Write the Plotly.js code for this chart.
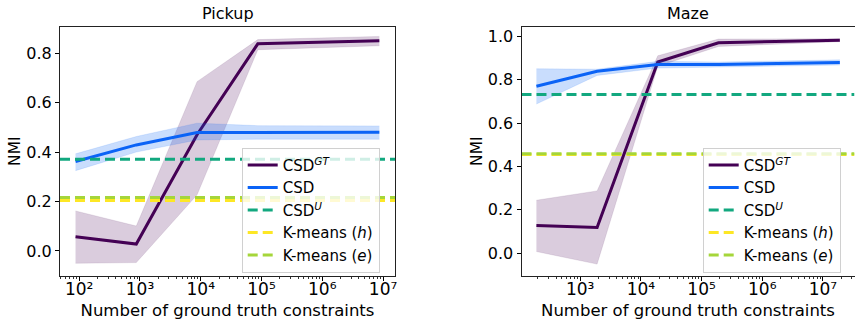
<!DOCTYPE html>
<html><head><meta charset="utf-8">
<script src="https://cdn.plot.ly/plotly-3.0.1.min.js"></script>
<style>html,body{margin:0;padding:0;background:#fff}</style>
</head><body><div id="chart" style="width:855px;height:320px"></div>
<script>
// ---- data ----
const seriesNames = ['CSD<sup><i>GT</i></sup>', 'CSD', 'CSD<sup><i>U</i></sup>', 'K-means (<i>h</i>)', 'K-means (<i>e</i>)'];
const panelTitles = ['Pickup', 'Maze'];
const xTitle = 'Number of ground truth constraints';
const yTitle = 'NMI';

const pickupX = [87, 870, 8700, 87000, 8700000];
const pickupGT = [0.058, 0.028, 0.47, 0.838, 0.850];
const pickupGTLow = [-0.050, -0.047, 0.227, 0.814, 0.830];
const pickupGTHigh = [0.162, 0.101, 0.685, 0.855, 0.868];
const pickupCSD = [0.362, 0.429, 0.479, 0.479, 0.480];
const pickupCSDLow = [0.325, 0.400, 0.449, 0.452, 0.452];
const pickupCSDHigh = [0.393, 0.463, 0.517, 0.507, 0.506];
const pickupCSDU = 0.371, pickupKmH = 0.204, pickupKmE = 0.216;

const mazeX = [190, 1900, 19000, 190000, 19000000];
const mazeGT = [0.127, 0.118, 0.882, 0.971, 0.983];
const mazeGTLow = [0.007, -0.051, 0.862, 0.954, 0.976];
const mazeGTHigh = [0.244, 0.287, 0.911, 0.988, 0.990];
const mazeCSD = [0.770, 0.839, 0.870, 0.870, 0.880];
const mazeCSDLow = [0.688, 0.820, 0.854, 0.858, 0.868];
const mazeCSDHigh = [0.851, 0.849, 0.885, 0.882, 0.892];
const mazeCSDU = 0.732, mazeKmH = 0.455, mazeKmE = 0.458;

const pickupXTicks = [100, 1000, 10000, 100000, 1000000, 10000000];
const pickupXTickText = ['10²', '10³', '10⁴', '10⁵', '10⁶', '10⁷'];
const mazeXTicks = [1000, 10000, 100000, 1000000, 10000000];
const mazeXTickText = ['10³', '10⁴', '10⁵', '10⁶', '10⁷'];
const pickupYTicks = [0.0, 0.2, 0.4, 0.6, 0.8];
const mazeYTicks = [0.0, 0.2, 0.4, 0.6, 0.8, 1.0];

// ---- styling ----
const C_GT = '#440154', C_CSD = '#0b63f6', C_U = '#12a87f', C_H = '#fde725', C_E = '#a5d63a';
const F_GT = 'rgba(68,1,84,0.2)', F_CSD = 'rgba(11,99,246,0.22)';
const FONT = 'DejaVu Sans';
const pickupXRange = [1.684, 7.197], mazeXRange = [2.033, 7.52];
const pickupYRange = [-0.100, 0.908], mazeYRange = [-0.1045, 1.046];

function panel(xa, ya, leg, xs, gt, gtL, gtH, csd, csdL, csdH, u, kh, ke, xr) {
  const common = {xaxis: xa, yaxis: ya, legend: leg, hoverinfo: 'skip'};
  const span = [Math.pow(10, xr[0]), Math.pow(10, xr[1])];
  const t = [];
  t.push(Object.assign({x: xs, y: gtL, mode: 'lines', line: {width: 0.5, color: F_GT}, showlegend: false}, common));
  t.push(Object.assign({x: xs, y: gtH, mode: 'lines', line: {width: 0.5, color: F_GT}, fill: 'tonexty', fillcolor: F_GT, showlegend: false}, common));
  t.push(Object.assign({x: xs, y: gt, mode: 'lines', name: seriesNames[0], line: {width: 3, color: C_GT}}, common));
  t.push(Object.assign({x: xs, y: csdL, mode: 'lines', line: {width: 0.5, color: F_CSD}, showlegend: false}, common));
  t.push(Object.assign({x: xs, y: csdH, mode: 'lines', line: {width: 0.5, color: F_CSD}, fill: 'tonexty', fillcolor: F_CSD, showlegend: false}, common));
  t.push(Object.assign({x: xs, y: csd, mode: 'lines', name: seriesNames[1], line: {width: 3, color: C_CSD}}, common));
  t.push(Object.assign({x: span, y: [u, u], mode: 'lines', name: seriesNames[2], line: {width: 3, color: C_U, dash: '10px,5px'}}, common));
  t.push(Object.assign({x: span, y: [kh, kh], mode: 'lines', name: seriesNames[3], line: {width: 3, color: C_H, dash: '10px,5px'}}, common));
  t.push(Object.assign({x: span, y: [ke, ke], mode: 'lines', name: seriesNames[4], line: {width: 3, color: C_E, dash: '10px,5px'}}, common));
  return t;
}

const data = [].concat(
  panel('x', 'y', 'legend', pickupX, pickupGT, pickupGTLow, pickupGTHigh, pickupCSD, pickupCSDLow, pickupCSDHigh, pickupCSDU, pickupKmH, pickupKmE, pickupXRange),
  panel('x2', 'y2', 'legend2', mazeX, mazeGT, mazeGTLow, mazeGTHigh, mazeCSD, mazeCSDLow, mazeCSDHigh, mazeCSDU, mazeKmH, mazeKmE, mazeXRange)
);

function xax(domain, range, tv, tt) {
  return {domain: domain, type: 'log', range: range, tickmode: 'array', tickvals: tv, ticktext: tt,
    ticks: 'outside', ticklen: 4, tickwidth: 1, tickcolor: '#000', showgrid: false, zeroline: false,
    showline: true, mirror: true, linecolor: '#222', linewidth: 1, ticklabelstandoff: -6,
    tickfont: {family: FONT, size: 17, color: '#000'},
    minor: {ticks: 'outside', ticklen: 2, tickwidth: 0.8, tickcolor: '#000', dtick: 'D1', showgrid: false},
    title: {text: xTitle, font: {family: FONT, size: 16.5, color: '#000'}, standoff: 7}};
}
function yax(domain, range, tv, anchor) {
  return {domain: domain, range: range, tickmode: 'array', tickvals: tv, tickformat: '.1f', anchor: anchor,
    ticks: 'outside', ticklen: 4, tickwidth: 1, tickcolor: '#000', showgrid: false, zeroline: false,
    showline: true, mirror: true, linecolor: '#222', linewidth: 1,
    tickfont: {family: FONT, size: 16, color: '#000'},
    title: {text: yTitle, font: {family: FONT, size: 15.5, color: '#000'}, standoff: 1}};
}
const yDom = [1 - 275.7 / 320, 1 - 26.5 / 320];
const legendStyle = {bgcolor: 'rgba(255,255,255,0.8)', bordercolor: '#d0d0d0', borderwidth: 1, traceorder: 'normal',
  font: {family: FONT, size: 15, color: '#000'}, xanchor: 'left', yanchor: 'top'};

const layout = {
  width: 855, height: 320, margin: {l: 0, r: 0, t: 0, b: 0},
  paper_bgcolor: '#fff', plot_bgcolor: '#fff', showlegend: true,
  font: {family: FONT, color: '#000'},
  xaxis: Object.assign(xax([60 / 855, 395 / 855], pickupXRange, pickupXTicks, pickupXTickText), {anchor: 'y'}),
  yaxis: yax(yDom, pickupYRange, pickupYTicks, 'x'),
  xaxis2: Object.assign(xax([521.5 / 855, 854.5 / 855], mazeXRange, mazeXTicks, mazeXTickText), {anchor: 'y2'}),
  yaxis2: yax(yDom, mazeYRange, mazeYTicks, 'x2'),
  legend: Object.assign({x: 241.7 / 855, y: 1 - 147.7 / 320}, legendStyle),
  legend2: Object.assign({x: 702.7 / 855, y: 1 - 147.7 / 320}, legendStyle),
  annotations: [
    {text: panelTitles[0], xref: 'x domain', yref: 'y domain', x: 0.5, y: 1, yanchor: 'bottom', showarrow: false, yshift: 1, font: {family: FONT, size: 16, color: '#000'}},
    {text: panelTitles[1], xref: 'x2 domain', yref: 'y2 domain', x: 0.5, y: 1, yanchor: 'bottom', showarrow: false, yshift: 1, font: {family: FONT, size: 16, color: '#000'}}
  ]
};
Plotly.newPlot('chart', data, layout, {displayModeBar: false, staticPlot: true});
</script></body></html>
